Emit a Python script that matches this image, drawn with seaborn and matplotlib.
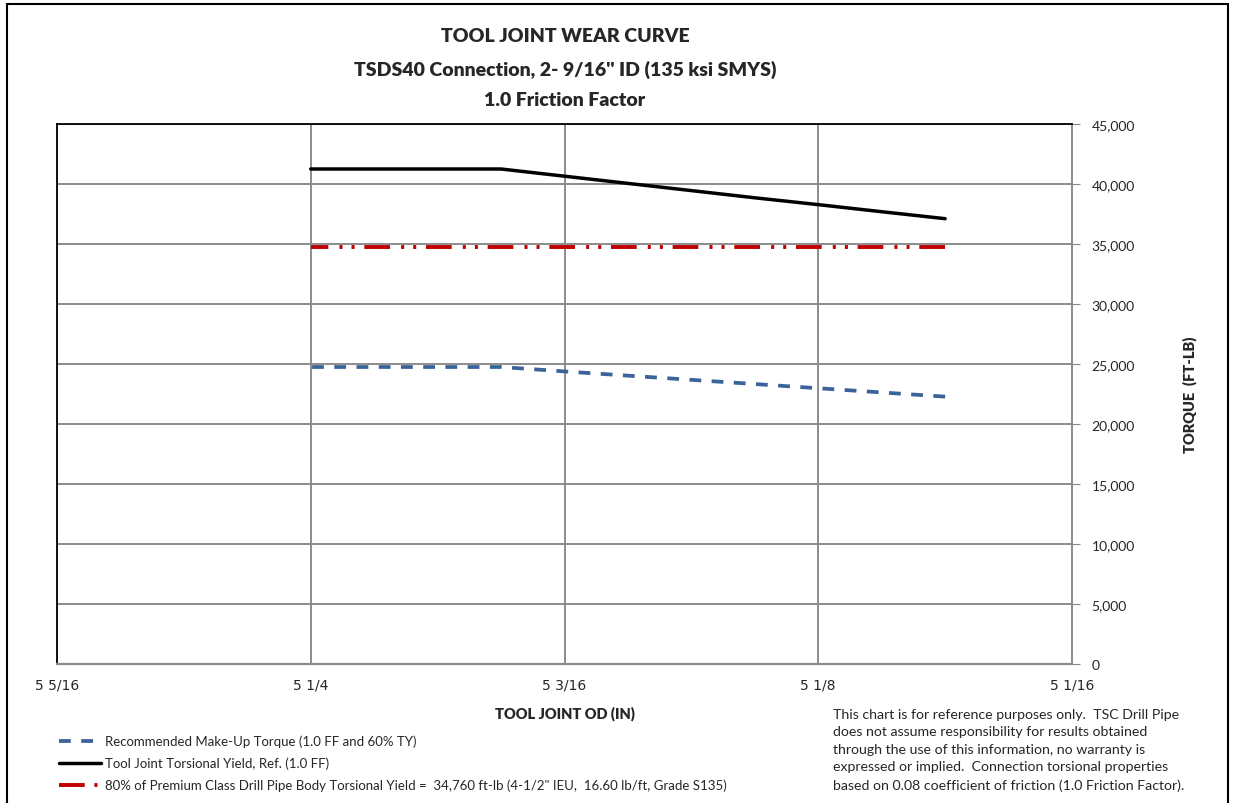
import numpy as np
import pandas as pd
import seaborn as sns
import matplotlib.pyplot as plt
from matplotlib.patches import Rectangle
from matplotlib.ticker import FixedLocator, FuncFormatter

# tool joint OD (in) and torque values (ft-lb)
od = [5.25, 5.234375, 5.21875, 5.203125, 5.1875, 5.171875, 5.15625,
      5.140625, 5.125, 5.109375, 5.09375]
yield_torque = [41250, 41250, 41250, 41250, 40650, 40050, 39450,
                38850, 38280, 37690, 37110]
makeup_torque = [24750, 24750, 24750, 24750, 24380, 24030, 23680,
                 23330, 22980, 22630, 22280]
pipe_yield = [34760] * len(od)

x_ticks = [5.3125, 5.25, 5.1875, 5.125, 5.0625]
x_tick_labels = ["5 5/16", "5 1/4", "5 3/16", "5 1/8", "5 1/16"]

sns.set_style("white")
plt.rcParams['font.family'] = ['Lato', 'DejaVu Sans']
plt.rcParams['lines.scale_dashes'] = False

df = pd.DataFrame({"od": od, "yield": yield_torque,
                   "makeup": makeup_torque, "pipe": pipe_yield})

fig = plt.figure(figsize=(12.33, 8.04), dpi=100)
ax = fig.add_axes([57/1233, 1 - 665/804, (1072-57)/1233, (665-125)/804])

sns.lineplot(data=df, x="od", y="makeup", color="#3A6399", linewidth=2.7,
             label="Recommended Make-Up Torque (1.0 FF and 60% TY)", ax=ax)
ax.lines[-1].set_linestyle((0, (8.5, 7.5)))
sns.lineplot(data=df, x="od", y="yield", color="black", linewidth=2.5,
             label="Tool Joint Torsional Yield, Ref. (1.0 FF)", ax=ax)
sns.lineplot(data=df, x="od", y="pipe", color="#C00000", linewidth=2.8,
             label="80% of Premium Class Drill Pipe Body Torsional Yield =  34,760 ft-lb (4-1/2\" IEU,  16.60 lb/ft, Grade S135)",
             ax=ax)
ax.lines[-1].set_linestyle((0, (18.5, 7, 2.2, 6.5, 2.2, 8)))

ax.set_xlim(5.3125, 5.0625)
ax.set_ylim(0, 45000)
ax.xaxis.set_major_locator(FixedLocator(x_ticks))
ax.set_xticklabels(x_tick_labels)
ax.yaxis.tick_right()
ax.yaxis.set_label_position("right")
ax.set_yticks(np.arange(0, 45001, 5000))
ax.yaxis.set_major_formatter(FuncFormatter(lambda v, p: f"{int(v):,}"))
ax.tick_params(axis="y", direction="out", length=6, color="#888888",
               labelsize=10, pad=8)
ax.tick_params(axis="x", direction="out", length=5, color="#888888",
               labelsize=10, pad=5)
for lbl in ax.get_xticklabels():
    lbl.set_family("Liberation Sans Narrow")

ax.grid(True, color="#8c8c8c", linewidth=1.4)
ax.set_axisbelow(True)
ax.spines["top"].set_color("black")
ax.spines["left"].set_color("black")
ax.spines["top"].set_linewidth(1.3)
ax.spines["left"].set_linewidth(1.3)
ax.spines["right"].set_color("#8c8c8c")
ax.spines["bottom"].set_color("#8c8c8c")
ax.spines["right"].set_linewidth(1.4)
ax.spines["bottom"].set_linewidth(1.6)

ax.set_xlabel("TOOL JOINT OD (IN)", fontsize=10.5, fontweight="heavy", labelpad=10)
ax.set_ylabel("TORQUE  (FT-LB)", fontsize=10.5, fontweight="heavy", labelpad=34)

fig.text(565/1233, 1 - 37/804, "TOOL JOINT WEAR CURVE", ha="center", va="center",
         fontsize=14, fontweight="heavy")
fig.text(565/1233, 1 - 70/804, "TSDS40 Connection, 2- 9/16'' ID (135 ksi SMYS)",
         ha="center", va="center", fontsize=14, fontweight="heavy")
fig.text(565/1233, 1 - 101/804, "1.0 Friction Factor", ha="center", va="center",
         fontsize=14, fontweight="heavy")

ax.legend_.remove()
handles, labels = ax.get_legend_handles_labels()
fig.legend(handles, labels, loc="upper left", bbox_to_anchor=(52/1233, 1 - 729/804),
           frameon=False, fontsize=9.5, handlelength=3.2, handletextpad=0.3,
           labelspacing=0.72, borderpad=0)

note = ("This chart is for reference purposes only.  TSC Drill Pipe\n"
        "does not assume responsibility for results obtained\n"
        "through the use of this information, no warranty is\n"
        "expressed or implied.  Connection torsional properties\n"
        "based on 0.08 coefficient of friction (1.0 Friction Factor).")
fig.text(833/1233, 1 - 709/804, note, ha="left", va="top", fontsize=10.2,
         linespacing=1.55)

fig.patches.append(Rectangle((7/1233, -0.01), 1221/1233, 1.0 - 5/804 + 0.01,
                             transform=fig.transFigure, fill=False,
                             edgecolor="black", linewidth=1.5))

fig.savefig("out.png", dpi=100)
